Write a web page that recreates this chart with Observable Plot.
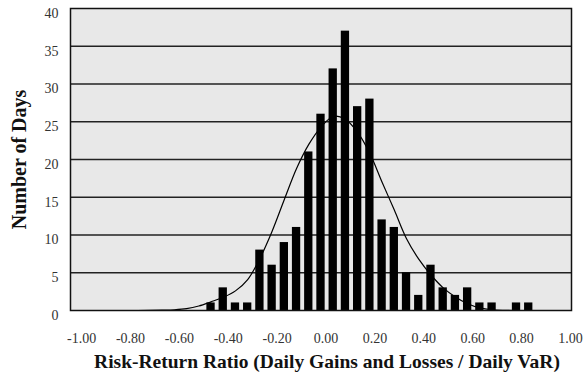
<!DOCTYPE html>
<html><head><meta charset="utf-8">
<script src="https://cdn.jsdelivr.net/npm/d3@7"></script>
<script src="https://cdn.jsdelivr.net/npm/@observablehq/plot@0.6"></script>
<style>body{margin:0;background:#fff} svg{display:block}</style>
</head><body><div id="chart"></div>
<script>
// Category bins (risk-return ratio), step 0.05
const bins = [-1.00,-0.95,-0.90,-0.85,-0.80,-0.75,-0.70,-0.65,-0.60,-0.55,
  -0.50,-0.45,-0.40,-0.35,-0.30,-0.25,-0.20,-0.15,-0.10,-0.05,
  0.00,0.05,0.10,0.15,0.20,0.25,0.30,0.35,0.40,0.45,
  0.50,0.55,0.60,0.65,0.70,0.75,0.80,0.85,0.90,0.95,1.00];
// Number of days per bin (bars)
const counts = [0,0,0,0,0,0,0,0,0,0,
  0,1,3,1,1,8,6,9,11,21,
  26,32,37,27,28,12,11,5,2,6,
  3,2,3,1,1,0,1,1,0,0,0];
// Fitted normal curve
const fitted = [0,0,0,0,0,0,0.02,0.05,0.1,0.25,
  0.6,1.15,1.75,2.6,4.1,6.9,10.5,14.7,18.8,22.0,
  24.3,25.7,25.3,23.6,20.8,17.0,13.3,9.5,6.8,4.7,
  3.0,1.8,0.9,0.35,0.1,0.02,0,0,0,0,0];
const xTicks = [-1.0,-0.8,-0.6,-0.4,-0.2,0.0,0.2,0.4,0.6,0.8,1.0];
const yTicks = [0,5,10,15,20,25,30,35,40];
const xTitle = "Risk-Return Ratio (Daily Gains and Losses / Daily VaR)";
const yTitle = "Number of Days";

const rows = bins.map((b, i) => ({bin: b, count: counts[i], fit: fitted[i]}));
const half = 0.017;
const font = "'Liberation Serif', 'Times New Roman', serif";

const chart = Plot.plot({
  width: 583, height: 380,
  marginLeft: 70, marginRight: 12, marginTop: 8, marginBottom: 70,
  style: {fontFamily: font, background: "#fff", overflow: "visible"},
  x: {type: "linear", domain: [-1.025, 1.025]},
  y: {domain: [0, 40]},
  marks: [
    Plot.frame({fill: "#e8e8e8"}),
    Plot.ruleY(yTicks.filter(t => t > 0 && t < 40), {stroke: "#222", strokeWidth: 1.3}),
    Plot.rectY(rows.filter(d => d.count > 0), {x1: d => d.bin - half, x2: d => d.bin + half, y: "count", fill: "#000"}),
    Plot.line(rows, {x: "bin", y: "fit", curve: "catmull-rom", stroke: "#000", strokeWidth: 1.2}),
    Plot.frame({stroke: "#111", strokeWidth: 1.5}),
    Plot.axisY(yTicks, {tickSize: 0, tickPadding: 12, dy: 5, fontSize: 14, fill: "#333", label: null}),
    Plot.axisX(xTicks, {tickSize: 0, tickPadding: 23, dx: 5, fontSize: 14, fill: "#333", tickFormat: d => d.toFixed(2), label: null}),
    Plot.text([xTitle], {text: d => d, frameAnchor: "bottom", dy: 57, dx: 6, fontSize: 19.5, fontWeight: "bold", fill: "#111"}),
    Plot.text([yTitle], {text: d => d, frameAnchor: "left", textAnchor: "middle", lineAnchor: "middle", dx: -51, rotate: -90, fontSize: 20, fontWeight: "bold", fill: "#111"})
  ]
});
document.getElementById("chart").appendChild(chart);
</script>
</body></html>
